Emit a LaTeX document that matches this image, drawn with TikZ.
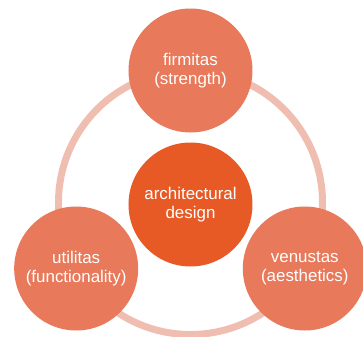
\documentclass[tikz,border=0pt]{standalone}
\usepackage{fontspec}
\setmainfont{Liberation Sans}
\definecolor{ringpink}{RGB}{240,190,176}
\definecolor{petal}{RGB}{232,121,90}
\definecolor{core}{RGB}{232,90,37}
\begin{document}
\begin{tikzpicture}[x=1bp, y=1bp,
                    line width=7bp,
                    font=\fontsize{17}{19.5}\selectfont]
    \tikzstyle{pillar}=[circle,fill=petal,text=white,minimum size=124bp,inner sep=0pt,align=center]
    \tikzstyle{hub}=[pillar, fill=core];
    \tikzstyle{ring}=[draw=ringpink];

    \useasboundingbox (-190.5,-134.5) rectangle (172.5,202.5);
    \draw[ring] (0,0) circle (132bp);

    \node[hub] (design) at (0,-2) {architectural\\design};
    \node[pillar] (firmitas) at (90:132) {firmitas\\(strength)};
    \node[pillar] (utilitas) at (210:132) {utilitas\\(functionality)};
    \node[pillar] (venustas) at (330:132) {venustas\\(aesthetics)};
\end{tikzpicture}
\end{document}
